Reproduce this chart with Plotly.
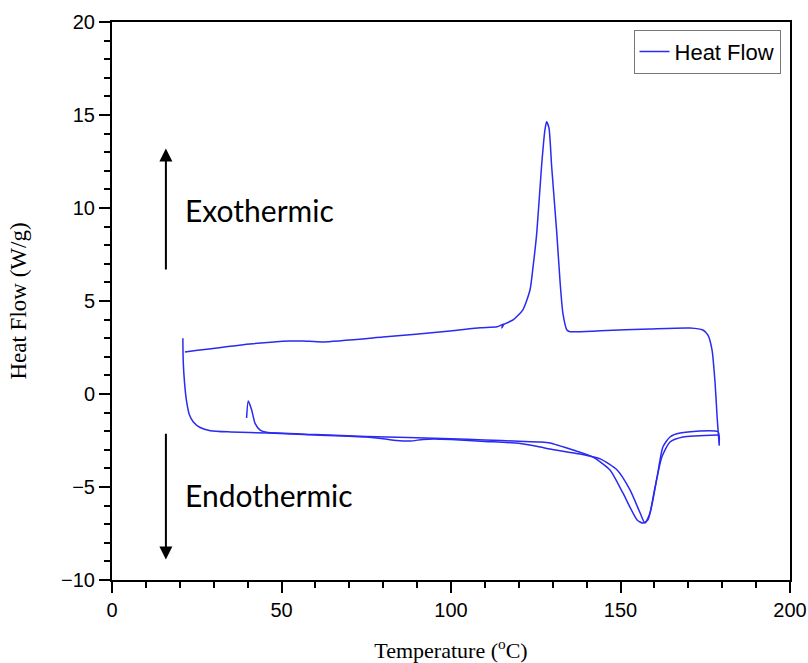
import plotly.graph_objects as go

# ---- data (Temperature °C, Heat Flow W/g) ----
# cycle 1 heating (starts at ~21 °C)
heat1_T = [20.9, 21.0, 21.4, 22.0, 22.8, 24.0, 26.0, 29.0, 35.0, 46.0, 60.0, 75.0, 80.0, 84.0, 88.0,
           91.7, 95.0, 100.0, 110.0, 120.0, 126.3, 129.2, 138.1, 144.0, 149.0, 152.8, 155.8, 157.2,
           158.7, 160.8, 162.5, 164.6, 167.6, 178.8]
heat1_HF = [3.0, 1.8, 0.6, -0.4, -1.1, -1.5, -1.8, -1.97, -2.04, -2.10, -2.20, -2.31, -2.40, -2.50, -2.53,
            -2.44, -2.42, -2.45, -2.55, -2.65, -2.85, -2.96, -3.23, -3.49, -4.09, -5.16, -6.40, -6.94,
            -6.40, -4.46, -2.85, -2.31, -2.10, -2.04]
# cooling (180 °C back to ~21 °C), crystallisation peak
cool_T = [179.1, 178.8, 178.5, 177.9, 177.0, 175.8, 174.3, 170.5, 158.7, 144.0, 135.1, 134.2, 133.0,
          132.2, 131.2, 129.7, 128.9, 128.2, 127.7, 126.7, 125.3, 124.2, 123.3, 121.2, 118.3, 115.3,
          115.0, 115.5, 113.6, 108.6, 99.7, 79.9, 62.2, 56.3, 52.5, 40.7, 21.5]
cool_HF = [-2.74, -2.0, -1.24, 0.59, 2.37, 3.17, 3.44, 3.55, 3.50, 3.40, 3.35, 3.44, 4.35,
           5.97, 8.66, 12.22, 14.3, 14.64, 14.19, 12.22, 8.66, 6.83, 5.59, 4.52, 3.98, 3.71,
           3.55, 3.75, 3.62, 3.56, 3.39, 3.06, 2.80, 2.85, 2.85, 2.69, 2.26]
# cycle 2 heating (starts at ~40 °C)
heat2_T = [39.7, 40.2, 41.2, 42.2, 43.7, 45.6, 60.0, 75.0, 100.0, 110.0, 120.0, 126.3, 129.2, 136.0,
           141.9, 146.9, 150.7, 154.9, 156.6, 158.1, 160.2, 162.2, 164.6, 168.4, 178.8]
heat2_HF = [-1.29, -0.38, -0.86, -1.58, -1.94, -2.06, -2.18, -2.28, -2.40, -2.47, -2.54, -2.58, -2.63, -3.01,
            -3.39, -4.09, -5.32, -6.77, -6.94, -6.77, -5.00, -3.39, -2.58, -2.31, -2.20]

x_all = heat1_T + cool_T + [None] + heat2_T
y_all = heat1_HF + cool_HF + [None] + heat2_HF

fig = go.Figure()
fig.add_trace(go.Scatter(x=x_all, y=y_all, mode="lines", name="Heat Flow",
                         line=dict(color="#2a2af0", width=1.5, shape="spline", smoothing=0.6),
                         connectgaps=False))

axis_common = dict(showline=True, linecolor="black", linewidth=2, mirror=True,
                   ticks="outside", ticklen=11, tickwidth=1.5, tickcolor="black",
                   showgrid=False, zeroline=False, automargin=False,
                   tickfont=dict(family="Liberation Sans, Arial", size=20, color="black"),
                   minor=dict(ticks="outside", ticklen=6, tickwidth=1.5, tickcolor="black"))

fig.update_xaxes(range=[0, 200], dtick=50, **axis_common,
                 title=dict(text="Temperature (<sup>o</sup>C)",
                            font=dict(family="Liberation Serif, Times New Roman", size=22, color="black"),
                            standoff=24))
fig.update_yaxes(range=[-10, 20], dtick=5, **axis_common,
                 title=dict(text="Heat Flow (W/g)",
                            font=dict(family="Liberation Serif, Times New Roman", size=23, color="black"),
                            standoff=28))

fig.add_annotation(x=15.9, y=13.2, ax=15.9, ay=6.15, xref="x", yref="y", axref="x", ayref="y",
                   showarrow=True, arrowhead=2, arrowsize=1.3, arrowwidth=2, arrowcolor="black", text=" ")
fig.add_annotation(x=15.9, y=-8.9, ax=15.9, ay=-1.6, xref="x", yref="y", axref="x", ayref="y",
                   showarrow=True, arrowhead=2, arrowsize=1.3, arrowwidth=2, arrowcolor="black", text=" ")
fig.add_annotation(x=20.9, y=9.9, xref="x", yref="y", text="Exothermic", showarrow=False,
                   xanchor="left", yanchor="middle",
                   font=dict(family="Lato, Open Sans", size=30, color="black"))
fig.add_annotation(x=20.9, y=-5.43, xref="x", yref="y", text="Endothermic", showarrow=False,
                   xanchor="left", yanchor="middle",
                   font=dict(family="Lato, Open Sans", size=30, color="black"))

fig.update_layout(width=808, height=663,
                  margin=dict(l=112, r=18, t=22, b=83),
                  plot_bgcolor="white", paper_bgcolor="white",
                  showlegend=True,
                  legend=dict(x=0.986, y=0.986, xanchor="right", yanchor="top",
                              bgcolor="white", bordercolor="#777777", borderwidth=1,
                              font=dict(family="Liberation Sans, Arial", size=22, color="black")))

fig.write_html("out.html")
